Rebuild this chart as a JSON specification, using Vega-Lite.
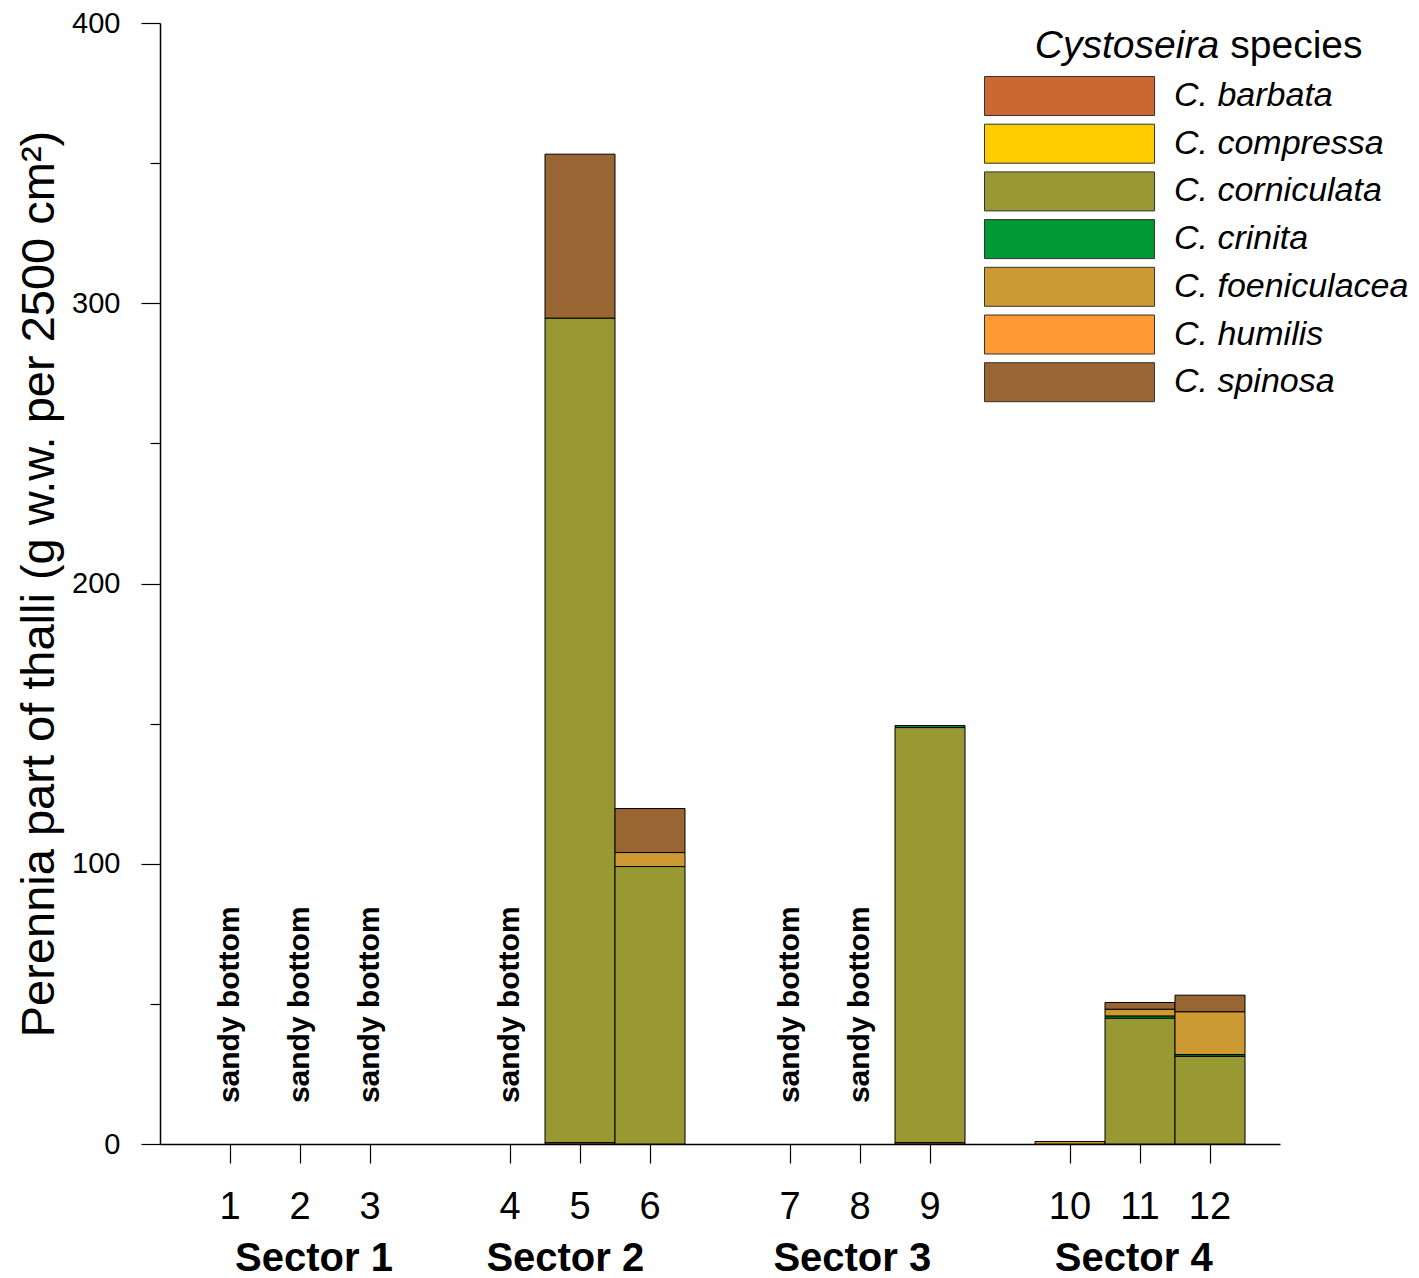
{
  "$schema": "https://vega.github.io/schema/vega-lite/v6.json",
  "width": 1120,
  "height": 1121,
  "autosize": {"type": "none"},
  "padding": {"left": 160, "top": 23, "right": 139, "bottom": 134},
  "config": {
    "font": "Liberation Sans",
    "view": {"stroke": null},
    "axis": {"grid": false}
  },
  "resolve": {"scale": {"x": "independent"}, "axis": {"x": "independent", "y": "independent"}},
  "layer": [
    {
      "resolve": {"axis": {"y": "independent"}},
      "layer": [
        {
          "data": {
            "values": [
              {"site": "5", "species": "C. barbata", "value": 0.5},
              {"site": "5", "species": "C. corniculata", "value": 294.2},
              {"site": "5", "species": "C. spinosa", "value": 58.5},
              {"site": "6", "species": "C. corniculata", "value": 99.0},
              {"site": "6", "species": "C. foeniculacea", "value": 5.0},
              {"site": "6", "species": "C. spinosa", "value": 15.7},
              {"site": "9", "species": "C. barbata", "value": 0.5},
              {"site": "9", "species": "C. corniculata", "value": 148.1},
              {"site": "9", "species": "C. crinita", "value": 0.7},
              {"site": "10", "species": "C. foeniculacea", "value": 0.9},
              {"site": "11", "species": "C. corniculata", "value": 44.9},
              {"site": "11", "species": "C. crinita", "value": 0.8},
              {"site": "11", "species": "C. foeniculacea", "value": 2.4},
              {"site": "11", "species": "C. spinosa", "value": 2.4},
              {"site": "12", "species": "C. corniculata", "value": 31.3},
              {"site": "12", "species": "C. crinita", "value": 0.6},
              {"site": "12", "species": "C. foeniculacea", "value": 15.3},
              {"site": "12", "species": "C. spinosa", "value": 5.9}
            ]
          },
          "mark": {"type": "bar", "stroke": "black", "strokeWidth": 1},
          "encoding": {
            "x": {
              "field": "site", "type": "nominal",
              "scale": {"domain": ["1","2","3","g1","4","5","6","g2","7","8","9","g3","10","11","12"], "paddingInner": 0, "paddingOuter": 0.5},
              "axis": {
                "values": ["1","2","3","4","5","6","7","8","9","10","11","12"],
                "labelAngle": 0, "labelFontSize": 38, "labelColor": "black", "labelBaseline": "top",
                "tickSize": 19, "tickColor": "black", "tickWidth": 1.2,
                "labelPadding": 25, "title": null,
                "domainColor": "black", "domainWidth": 1.5
              }
            },
            "y": {
              "field": "value", "type": "quantitative", "stack": "zero",
              "scale": {"domain": [0, 400], "nice": false},
              "axis": {
                "values": [0, 100, 200, 300, 400],
                "tickSize": 19, "tickColor": "black", "tickWidth": 1.2,
                "labelFontSize": 29, "labelColor": "black", "labelPadding": 21,
                "domainColor": "black", "domainWidth": 1.5,
                "title": "Perennia part of thalli (g w.w. per 2500 cm²)",
                "titleFontSize": 47, "titleFontWeight": "normal", "titleColor": "black", "titlePadding": 8
              }
            },
            "order": {"field": "species", "sort": "ascending"},
            "color": {
              "field": "species", "type": "nominal",
              "scale": {
                "domain": ["C. barbata", "C. compressa", "C. corniculata", "C. crinita", "C. foeniculacea", "C. humilis", "C. spinosa"],
                "range": ["#CC6633", "#FFCC00", "#999933", "#009933", "#CC9933", "#FF9933", "#996633"]
              },
              "legend": {
                "title": null, "orient": "none", "legendX": 824, "legendY": 53,
                "symbolType": "M-1,-1H7.72V1H-1Z", "symbolSize": 1521,
                "symbolStrokeColor": "#333333", "symbolStrokeWidth": 1, "symbolOpacity": 1,
                "labelFontSize": 34, "labelFontStyle": "italic", "labelColor": "black",
                "labelOffset": 150, "labelLimit": 400, "rowPadding": 3.7, "padding": 0
              }
            }
          }
        },
        {
          "data": {
            "values": [
              {"site": "1", "note": "sandy bottom"},
              {"site": "2", "note": "sandy bottom"},
              {"site": "3", "note": "sandy bottom"},
              {"site": "4", "note": "sandy bottom"},
              {"site": "7", "note": "sandy bottom"},
              {"site": "8", "note": "sandy bottom"}
            ]
          },
          "mark": {"type": "text", "angle": 270, "align": "left", "baseline": "middle", "fontWeight": "bold", "fontSize": 30, "color": "black"},
          "encoding": {
            "x": {
              "field": "site", "type": "nominal",
              "scale": {"domain": ["1","2","3","g1","4","5","6","g2","7","8","9","g3","10","11","12"], "paddingInner": 0, "paddingOuter": 0.5}
            },
            "y": {
              "datum": 14.6, "type": "quantitative",
              "axis": {
                "orient": "left", "values": [50, 150, 250, 350], "tickSize": 10,
                "tickColor": "black", "tickWidth": 1.2, "labels": false, "domain": false, "title": null
              }
            },
            "text": {"field": "note"}
          }
        }
      ]
    },
    {
      "layer": [
        {
          "data": {
            "values": [
              {"sector": "Sector 1", "center": 2.2},
              {"sector": "Sector 2", "center": 5.79},
              {"sector": "Sector 3", "center": 9.89},
              {"sector": "Sector 4", "center": 13.91}
            ]
          },
          "mark": {"type": "text", "fontWeight": "bold", "fontSize": 40, "align": "center", "baseline": "alphabetic", "color": "black"},
          "encoding": {
            "x": {"field": "center", "type": "quantitative", "scale": {"domain": [0, 16], "nice": false, "zero": false}, "axis": null},
            "y": {"datum": -45.4, "type": "quantitative", "axis": null},
            "text": {"field": "sector"}
          }
        },
        {
          "data": {"values": [{"word": "Cystoseira"}]},
          "mark": {"type": "text", "fontStyle": "italic", "fontSize": 39, "align": "right", "baseline": "alphabetic", "color": "black"},
          "encoding": {
            "x": {"datum": 15.13, "type": "quantitative", "axis": null},
            "y": {"datum": 387.5, "type": "quantitative", "axis": null},
            "text": {"field": "word"}
          }
        },
        {
          "data": {"values": [{"word": "species"}]},
          "mark": {"type": "text", "fontSize": 39, "align": "left", "baseline": "alphabetic", "color": "black"},
          "encoding": {
            "x": {"datum": 15.29, "type": "quantitative", "axis": null},
            "y": {"datum": 387.5, "type": "quantitative", "axis": null},
            "text": {"field": "word"}
          }
        }
      ]
    }
  ]
}
